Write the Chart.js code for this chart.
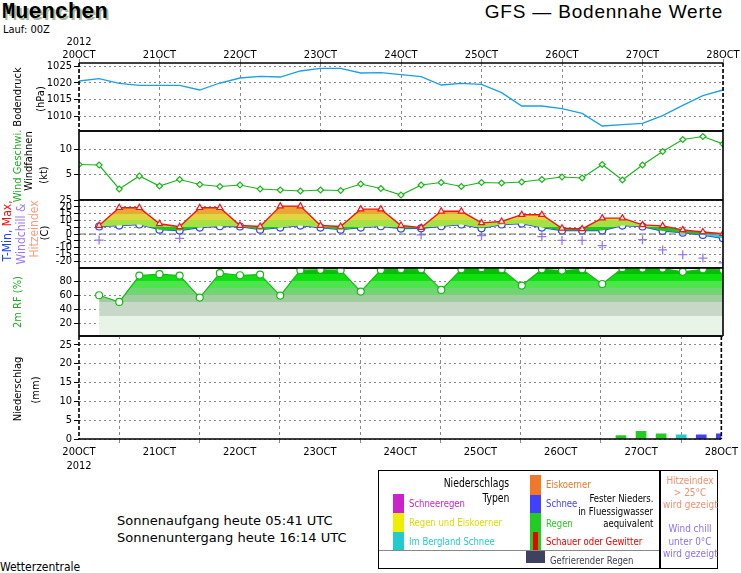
<!DOCTYPE html>
<html lang="de">
<head>
<meta charset="utf-8">
<title>Muenchen - GFS Bodennahe Werte</title>
<script src="https://cdn.jsdelivr.net/npm/chart.js@4.4.1/dist/chart.umd.min.js"></script>
<style>
  html, body { margin: 0; padding: 0; background: #fff; }
  #page { position: relative; width: 741px; height: 573px; overflow: hidden; color: #000;
          font-family: "Liberation Sans Narrow", "DejaVu Sans Condensed", "Liberation Sans", sans-serif; }
  #page canvas { position: absolute; left: 0; }
  .t { position: absolute; white-space: nowrap; font-size: 11px; line-height: 11px; }
  .n { transform: scaleX(0.86); transform-origin: left center; }
  .r { transform: scaleX(0.86); transform-origin: right center; }
  .v { position: absolute; white-space: nowrap; font-size: 11px; line-height: 11px;
       transform: translate(-50%, -50%) rotate(-90deg); }
  .c { text-align: center; width: 60px; left: 660px; transform: scaleX(0.9); }
  .sw { position: absolute; }
  #city { left: 2px; top: 2px; font: bold 22px "Liberation Mono", "DejaVu Sans Mono", monospace;
          line-height: 22px; text-shadow: 2px 2px 0 #a8b8a0; }
  #model { right: 18px; top: 2px; font: 19px "Liberation Sans", sans-serif; line-height: 19px; letter-spacing: 0.8px; }
  #sun { left: 117px; top: 512px; font: 13px "DejaVu Sans", sans-serif; line-height: 17px; }
  #legend { position: absolute; left: 378px; top: 470px; width: 340px; height: 99px; border: 1.5px solid #000; box-sizing: border-box; }
</style>
</head>
<body>
<div id="page">
  <div class="t" id="city">Muenchen</div>
  <div class="t" style="left:3px;top:24px;font-size:11px">Lauf: 00Z</div>
  <div class="t" id="model">GFS — Bodennahe Werte</div>

  <canvas id="druckChart" width="741" height="145" style="top:0"></canvas>
  <canvas id="windChart" width="741" height="97" style="top:117px"></canvas>
  <canvas id="tempChart" width="741" height="96" style="top:186px"></canvas>
  <canvas id="feuchteChart" width="741" height="96" style="top:254px"></canvas>
  <canvas id="niederChart" width="741" height="152" style="top:322px"></canvas>

  <div class="v" style="left:17px;top:97px">Bodendruck</div>
  <div class="v" style="left:40px;top:99px">(hPa)</div>
  <div class="v" style="left:17px;top:166px;color:#22aa22">Wind Geschwi.</div>
  <div class="v" style="left:28px;top:161px">Windfahnen</div>
  <div class="v" style="left:43px;top:175px">(kt)</div>
  <div class="v" style="left:7px;top:231px;font-size:12px"><span style="color:#2040ff">T-Min,</span> <span style="color:#ff1010">Max,</span></div>
  <div class="v" style="left:21px;top:234px;font-size:12px;color:#9878f0">Windchill &amp;</div>
  <div class="v" style="left:34px;top:229px;font-size:12px;color:#f4a080">Hitzeindex</div>
  <div class="v" style="left:44px;top:233px">(C)</div>
  <div class="v" style="left:17px;top:302px;color:#22aa22">2m RF (%)</div>
  <div class="v" style="left:17px;top:389px">Niederschlag</div>
  <div class="v" style="left:35px;top:390px">(mm)</div>

  <div class="t" id="sun">Sonnenaufgang heute 05:41 UTC<br>Sonnenuntergang heute 16:14 UTC</div>
  <div class="t" style="left:0;top:561px;font-size:12px;line-height:12px">Wetterzentrale</div>

  <div id="legend"></div>
  <div class="sw" style="left:659px;top:470px;width:1.5px;height:99px;background:#000"></div>
  <div class="sw" style="left:379px;top:550px;width:280px;height:1px;background:#888"></div>
  <div class="sw" style="left:393px;top:494px;width:11px;height:19px;background:#cc22cc"></div>
  <div class="sw" style="left:393px;top:513px;width:11px;height:19px;background:#eeee00"></div>
  <div class="sw" style="left:393px;top:532px;width:11px;height:18px;background:#22cccc"></div>
  <div class="sw" style="left:530px;top:475px;width:11px;height:20px;background:#f07828"></div>
  <div class="sw" style="left:530px;top:495px;width:11px;height:18px;background:#4040ff"></div>
  <div class="sw" style="left:530px;top:513px;width:11px;height:37px;background:#22cc22"></div>
  <div class="sw" style="left:533px;top:532px;width:5px;height:18px;background:#ee0000"></div>
  <div class="sw" style="left:526px;top:551px;width:19px;height:12px;background:#404060"></div>

  <div class="t r" style="right:232px;top:478px;font-size:12px">Niederschlags</div>
  <div class="t r" style="right:232px;top:493px;font-size:12px">Typen</div>
  <div class="t n" style="left:409px;top:498px;color:#cc22cc">Schneeregen</div>
  <div class="t n" style="left:409px;top:517px;color:#dddd00">Regen und Eiskoerner</div>
  <div class="t n" style="left:409px;top:536px;color:#22cccc">Im Bergland Schnee</div>
  <div class="t n" style="left:546px;top:479px;color:#f07828">Eiskoerner</div>
  <div class="t n" style="left:546px;top:498px;color:#4040ff">Schnee</div>
  <div class="t n" style="left:546px;top:518px;color:#22cc22">Regen</div>
  <div class="t n" style="left:546px;top:536px;color:#ee0000">Schauer oder Gewitter</div>
  <div class="t n" style="left:550px;top:555px;color:#404050">Gefrierender Regen</div>
  <div class="t r" style="right:88px;top:493px;text-align:right">Fester Nieders.</div>
  <div class="t r" style="right:88px;top:506px;text-align:right">in Fluessigwasser</div>
  <div class="t r" style="right:88px;top:518px;text-align:right">aequivalent</div>
  <div class="t c" style="top:475px;color:#f09070">Hitzeindex</div>
  <div class="t c" style="top:487px;color:#f09070">&gt; 25°C</div>
  <div class="t c" style="top:499px;color:#f09070">wird gezeigt</div>
  <div class="t c" style="top:523px;color:#9070ee">Wind chill</div>
  <div class="t c" style="top:536px;color:#9070ee">unter 0°C</div>
  <div class="t c" style="top:548px;color:#9070ee">wird gezeigt</div>
</div>

<script>
(function () {
  "use strict";

  // Termine (Stunden ab 20OCT 00Z), 6-stuendlich
  const hours = [0, 6, 12, 18, 24, 30, 36, 42, 48, 54, 60, 66, 72, 78, 84, 90, 96,
    102, 108, 114, 120, 126, 132, 138, 144, 150, 156, 162, 168, 174, 180, 186, 192];
  const dayTicks = [0, 24, 48, 72, 96, 120, 144, 168, 192];
  const dayLabels = ["20OCT", "21OCT", "22OCT", "23OCT", "24OCT", "25OCT", "26OCT", "27OCT", "28OCT"];
  const yearLabel = "2012";

  // Bodendruck (hPa)
  const pressure = [1020.5, 1021.2, 1019.8, 1019.2, 1019.2, 1019.2, 1017.8, 1019.9, 1021.4,
    1021.9, 1021.7, 1023.5, 1024.3, 1024.3, 1022.9, 1023.0, 1022.4, 1021.8, 1019.3, 1019.8,
    1019.5, 1017.0, 1013.0, 1013.0, 1012.2, 1010.8, 1007.0, 1007.4, 1007.8, 1010.1, 1013.2,
    1016.1, 1017.8];
  const pressureTicks = [1010, 1015, 1020, 1025];

  // Windgeschwindigkeit (kt)
  const wind = [7.0, 6.9, 2.1, 4.7, 2.7, 4.0, 3.0, 2.6, 2.9, 2.1, 1.9, 1.7, 1.9, 1.8, 3.1,
    2.2, 0.9, 2.9, 3.4, 2.6, 3.4, 3.3, 3.5, 4.0, 4.5, 4.3, 7.0, 3.9, 6.9, 9.6, 12.0, 12.6, 11.1];
  const windTicks = [5, 10];

  // Temperatur (C)
  const tempMax = [null, 6.2, 19.3, 19.3, 7.5, 5.3, 19.3, 19.3, 6.2, 5.5, 20.5, 20.5, 6.2,
    5.5, 18.3, 18.3, 6.2, 4.7, 16.7, 16.7, 8.2, 9.2, 14.2, 14.2, 4.2, 3.7, 11.7, 11.7, 6.7,
    6.0, 3.0, 1.5, 0.2];
  const tempMin = [null, 5.5, 6.2, 7.0, 3.2, 2.5, 4.7, 5.7, 5.5, 3.2, 4.7, 6.2, 4.7, 3.2,
    4.7, 5.7, 4.0, 4.2, 5.7, 7.0, 4.2, 7.0, 7.7, 4.7, 2.5, 2.5, 2.5, 6.2, 5.5, 2.2, 1.0,
    -0.7, -3.2];
  const windChill = [null, -4.5, null, null, null, -3.2, null, null, null, null, null, null,
    null, null, null, null, null, -0.7, null, null, -1.2, null, null, -2.0, -4.7, -4.7, -8.5,
    null, -4.2, -11.7, -15.2, -17.7, -21.2];
  const tempTicks = [-20, -15, -10, -5, 0, 5, 10, 15, 20, 25];

  // Relative Feuchte 2m (%)
  const humidity = [null, 60.0, 50.4, 88, 90, 88, 56.6, 91.4, 88.5, 89.5, 59.5, 95.7, 96.2,
    95.7, 65.2, 96, 97, 97, 67.6, 97, 98.5, 97, 73.8, 97, 95.2, 97, 76, 98.5, 98, 98, 93.3, 97, 96];
  const humidityTicks = [20, 40, 60, 80];

  // Niederschlag (mm / 6h)
  const precipHours = [162, 168, 174, 180, 186, 192];
  const precipAmount = [0.9, 2.0, 1.4, 1.1, 1.1, 1.4];
  const precipType = ["Regen", "Regen", "Regen", "Im Bergland Schnee", "Schnee", "Schnee"];
  const precipTicks = [0, 5, 10, 15, 20, 25];

  // Styles
  const FONT = '"Liberation Sans Narrow", "DejaVu Sans Condensed", "Liberation Sans", sans-serif';
  const GRID = "#8a8a8a";
  const precipColors = { "Regen": "#22cc22", "Im Bergland Schnee": "#22cccc", "Schnee": "#4040ff" };
  const tempBands = [[-25, 0, "#3cc8c8"], [0, 5, "#22c422"], [5, 10, "#a4e244"],
    [10, 15, "#dcd640"], [15, 20, "#e8a834"], [20, 25, "#ee7f2c"]];
  const humidityBands = [[0, 30, "#e8f4e8"], [30, 50, "#c8d8c8"], [50, 60, "#a0cca0"],
    [60, 70, "#72d472"], [70, 80, "#4ee44e"], [80, 90, "#10e010"], [90, 101, "#00c000"]];

  function points(values) {
    return hours.map((h, i) => ({ x: h, y: values[i] }));
  }

  // horizontal colour bands, laid out through the y scale
  function bandGradient(chart, bands) {
    const { ctx, chartArea, scales } = chart;
    if (!chartArea) return null;
    const y = scales.y;
    const bottom = y.getPixelForValue(y.min);
    const top = y.getPixelForValue(y.max);
    const g = ctx.createLinearGradient(0, bottom, 0, top);
    const span = y.max - y.min;
    const f = (v) => Math.min(1, Math.max(0, (v - y.min) / span));
    bands.forEach(([lo, hi, color]) => {
      g.addColorStop(f(lo), color);
      g.addColorStop(f(hi), color);
    });
    return g;
  }

  const framePlugin = {
    id: "frame",
    afterDatasetsDraw(chart, args, opts) {
      const { ctx, chartArea: a } = chart;
      ctx.save();
      if (opts.zeroLine) {
        const y0 = chart.scales.y.getPixelForValue(0);
        ctx.strokeStyle = "#707070";
        ctx.lineWidth = 1;
        ctx.setLineDash([7, 3]);
        ctx.beginPath();
        ctx.moveTo(a.left, y0);
        ctx.lineTo(a.right, y0);
        ctx.stroke();
      }
      ctx.strokeStyle = "#000";
      ctx.lineWidth = 1.6;
      ctx.setLineDash([]);
      ctx.beginPath();
      ctx.moveTo(a.left, a.top);
      ctx.lineTo(a.right, a.top);
      ctx.moveTo(a.left, a.bottom);
      ctx.lineTo(a.right, a.bottom);
      ctx.stroke();
      ctx.setLineDash(opts.sideDash || []);
      ctx.beginPath();
      ctx.moveTo(a.left, a.top);
      ctx.lineTo(a.left, a.bottom);
      ctx.moveTo(a.right, a.top);
      ctx.lineTo(a.right, a.bottom);
      ctx.stroke();
      ctx.restore();
    },
  };

  function xScale(position, axisHeight, firstLabel, labelPad) {
    return {
      type: "linear",
      min: 0,
      max: 192,
      offset: false,
      position: position,
      afterBuildTicks: (s) => { s.ticks = dayTicks.map((v) => ({ value: v })); },
      afterFit: (s) => { s.height = axisHeight; },
      ticks: {
        autoSkip: false,
        maxRotation: 0,
        padding: labelPad,
        color: "#000",
        font: { family: FONT, size: 11 },
        callback: (v, i) => (i === 0 ? firstLabel : dayLabels[i]),
      },
      grid: { color: GRID, tickColor: GRID, tickLength: 4 },
      border: { display: false, dash: [3, 3] },
    };
  }

  function yScale(min, max, tickValues, z) {
    return {
      min: min,
      max: max,
      z: z || 0,
      afterBuildTicks: (s) => { s.ticks = tickValues.map((v) => ({ value: v })); },
      afterFit: (s) => { s.width = 79; },
      ticks: {
        autoSkip: false,
        padding: 2,
        color: "#000",
        font: { family: FONT, size: 11 },
        callback: (v) => String(v),
      },
      grid: { color: GRID, tickColor: "#000", tickLength: 5 },
      border: { display: false, dash: [2, 3] },
    };
  }

  function baseOptions(padTop, padBottom, scales, frame) {
    return {
      responsive: false,
      animation: false,
      events: [],
      layout: { padding: { left: 0, right: 18, top: padTop, bottom: padBottom } },
      plugins: { legend: { display: false }, tooltip: { enabled: false }, frame: frame },
      scales: scales,
    };
  }

  const hidden = { display: false, type: "linear", min: 0, max: 192 };
  window.meteogramCharts = [];

  // Bodendruck
  window.meteogramCharts.push(new Chart(document.getElementById("druckChart"), {
    type: "line",
    data: {
      datasets: [{
        label: "Bodendruck",
        data: points(pressure),
        borderColor: "#1aa0e6",
        borderWidth: 1.3,
        pointRadius: 0,
      }],
    },
    options: baseOptions(0, 14, {
      x: xScale("top", 63, [yearLabel, dayLabels[0]], -3),
      y: yScale(1005.5, 1025.9, pressureTicks),
    }, { sideDash: [4, 2] }),
    plugins: [framePlugin],
  }));

  // Wind
  window.meteogramCharts.push(new Chart(document.getElementById("windChart"), {
    type: "line",
    data: {
      datasets: [{
        label: "Wind Geschwi.",
        data: points(wind),
        borderColor: "#1cb41c",
        borderWidth: 1.2,
        pointStyle: "rectRot",
        pointRadius: 3,
        pointBackgroundColor: "#fff",
        pointBorderColor: "#1cb41c",
        pointBorderWidth: 1.2,
      }],
    },
    options: baseOptions(14, 14, {
      x: hidden,
      y: yScale(-0.1, 13.7, windTicks),
    }, {}),
    plugins: [framePlugin],
  }));

  // Temperatur
  window.meteogramCharts.push(new Chart(document.getElementById("tempChart"), {
    type: "line",
    data: {
      datasets: [
        {
          label: "T-Max",
          data: points(tempMax),
          borderColor: "#ff1010",
          borderWidth: 1.4,
          pointStyle: "triangle",
          pointRadius: 3.5,
          pointBackgroundColor: "#fff",
          pointBorderColor: "#ff1010",
          pointBorderWidth: 1.2,
          fill: "+1",
          backgroundColor: (c) => bandGradient(c.chart, tempBands),
        },
        {
          label: "T-Min",
          data: points(tempMin),
          borderColor: "#2040ff",
          borderWidth: 1.4,
          pointStyle: "circle",
          pointRadius: 3.5,
          pointBackgroundColor: "#fff",
          pointBorderColor: "#2040ff",
          pointBorderWidth: 1.2,
        },
        {
          label: "Windchill",
          data: points(windChill),
          showLine: false,
          pointStyle: "cross",
          pointRadius: 4.5,
          pointBorderColor: "#9878f0",
          pointBorderWidth: 1.3,
        },
      ],
    },
    options: baseOptions(14, 14, {
      x: hidden,
      y: yScale(-25, 25, tempTicks),
    }, { zeroLine: true }),
    plugins: [framePlugin],
  }));

  // Relative Feuchte
  window.meteogramCharts.push(new Chart(document.getElementById("feuchteChart"), {
    type: "line",
    data: {
      datasets: [{
        label: "2m RF",
        data: points(humidity),
        borderColor: "#18b818",
        borderWidth: 1.2,
        pointStyle: "circle",
        pointRadius: 3.5,
        pointBackgroundColor: "#fff",
        pointBorderColor: "#18b818",
        pointBorderWidth: 1.2,
        fill: "start",
        backgroundColor: (c) => bandGradient(c.chart, humidityBands),
      }],
    },
    options: baseOptions(14, 14, {
      x: hidden,
      y: yScale(1.9, 98.8, humidityTicks, 1),
    }, {}),
    plugins: [framePlugin],
  }));

  // Niederschlag
  window.meteogramCharts.push(new Chart(document.getElementById("niederChart"), {
    type: "bar",
    data: {
      datasets: [{
        label: "Niederschlag",
        data: precipHours.map((h, i) => ({ x: h, y: precipAmount[i] })),
        backgroundColor: precipType.map((t) => precipColors[t]),
        borderWidth: 0,
        barThickness: 10,
      }],
    },
    options: baseOptions(14, 0, {
      x: xScale("bottom", 35, [dayLabels[0], yearLabel], 3),
      y: yScale(0, 27.3, precipTicks),
    }, { sideDash: [4, 2] }),
    plugins: [framePlugin],
  }));
})();
</script>
</body>
</html>
